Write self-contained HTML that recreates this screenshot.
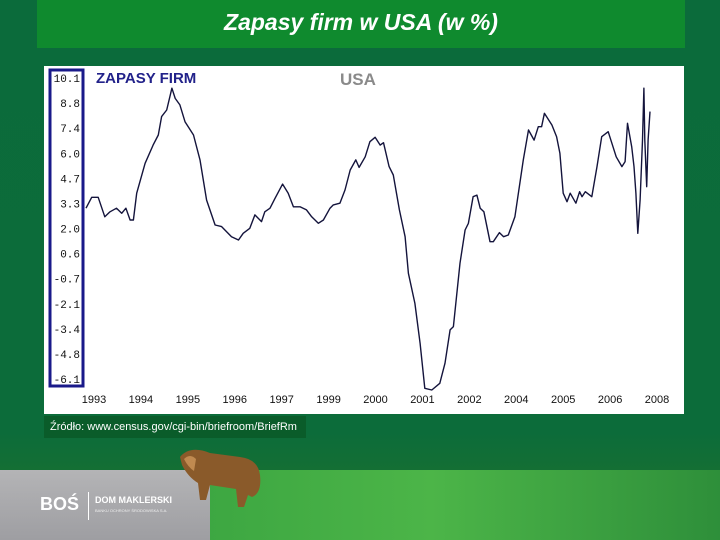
<!DOCTYPE html>
<html><head><meta charset="utf-8"><style>
body{margin:0;width:720px;height:540px;overflow:hidden;font-family:"Liberation Sans",sans-serif;}
#bg{position:absolute;left:0;top:0;width:720px;height:540px;background:linear-gradient(180deg,#0b6b3b 0%,#0c6c3a 80%,#146f34 87%,#2f9a3c 100%);}
</style></head><body>
<div id="bg"></div>
<div style="position:absolute;left:0;top:470px;width:720px;height:70px;background:linear-gradient(90deg,#2f9a3c,#4cb548 60%,#2e8f3a)"></div>
<div style="position:absolute;left:0;top:470px;width:210px;height:70px;background:linear-gradient(180deg,#b4b4b6,#9e9ea2)">
 <div style="position:absolute;left:40px;top:24px;color:#fff;font-weight:bold;font-size:18px;">BOŚ</div>
 <div style="position:absolute;left:88px;top:22px;width:1px;height:28px;background:#fff"></div>
 <div style="position:absolute;left:95px;top:25px;color:#fff;font-weight:bold;font-size:9px;">DOM MAKLERSKI</div>
 <div style="position:absolute;left:95px;top:38px;color:#eee;font-size:4px;">BANKU OCHRONY ŚRODOWISKA S.A.</div>
</div>
<svg style="position:absolute;left:170px;top:445px" width="95" height="65"><path d="M10 12 Q20 0 40 8 L70 12 Q88 14 90 30 Q92 48 82 52 L78 50 L74 62 L68 62 L66 44 L40 40 L36 55 L30 55 L28 38 Q18 32 12 20 Z" fill="#8a5a2a"/><path d="M14 14 Q20 8 26 14 L24 26 Q18 22 14 14Z" fill="#c08a50"/></svg>
<div style="position:absolute;left:37px;top:0;width:648px;height:48px;background:#0f8a2e;color:#fff;font-style:italic;font-weight:bold;font-size:23px;text-align:center;line-height:44px;">Zapasy firm w USA (w %)</div>
<div style="position:absolute;left:44px;top:416px;width:262px;height:22px;background:#0a5c2a;color:#fff;font-size:11px;line-height:23px;padding-left:6px;box-sizing:border-box;">Źródło: www.census.gov/cgi-bin/briefroom/BriefRm</div>
<svg id="chart" style="position:absolute;left:0;top:0" width="720" height="540"></svg>
<script>
const yTicks=["10.1","8.8","7.4","6.0","4.7","3.3","2.0","0.6","-0.7","-2.1","-3.4","-4.8","-6.1"];
const xLabels=["1993","1994","1995","1996","1997","1999","2000","2001","2002","2004","2005","2006","2008"];
const times=[-0.17,-0.05,0.09,0.23,0.34,0.48,0.59,0.68,0.77,0.84,0.91,1.09,1.26,1.37,1.44,1.55,1.66,1.73,1.83,1.94,2.12,2.26,2.40,2.58,2.72,2.93,3.08,3.18,3.32,3.43,3.57,3.64,3.75,3.86,4.02,4.14,4.25,4.39,4.53,4.64,4.78,4.89,5.03,5.10,5.24,5.35,5.46,5.58,5.65,5.78,5.88,5.99,6.10,6.17,6.29,6.38,6.51,6.63,6.70,6.84,6.95,7.05,7.20,7.37,7.48,7.59,7.66,7.80,7.91,7.98,8.08,8.16,8.23,8.31,8.44,8.51,8.64,8.73,8.83,8.97,9.15,9.26,9.38,9.47,9.54,9.60,9.76,9.86,9.93,10.00,10.08,10.15,10.27,10.35,10.40,10.47,10.61,10.72,10.82,10.96,11.13,11.25,11.32,11.37,11.46,11.51,11.55,11.59,11.64,11.69,11.72,11.74,11.78,11.81,11.85];
const values=[3.09,3.68,3.68,2.63,2.9,3.09,2.82,3.09,2.46,2.46,3.9,5.51,6.49,7.03,8.02,8.38,9.55,9.0,8.65,7.75,7.03,5.69,3.53,2.19,2.1,1.56,1.38,1.74,2.01,2.73,2.37,2.9,3.09,3.63,4.39,3.9,3.17,3.17,3.0,2.63,2.28,2.46,3.09,3.27,3.36,4.07,5.15,5.69,5.29,5.86,6.67,6.91,6.49,6.62,5.33,4.88,3.0,1.56,-0.41,-2.03,-4.18,-6.6,-6.69,-6.33,-5.25,-3.46,-3.28,0.13,1.92,2.28,3.71,3.8,3.09,2.9,1.29,1.29,1.78,1.56,1.65,2.63,5.69,7.3,6.76,7.48,7.48,8.2,7.57,6.94,6.05,3.9,3.44,3.9,3.36,3.98,3.71,3.98,3.71,5.33,6.94,7.21,5.86,5.33,5.6,7.66,6.4,5.33,3.9,1.74,3.53,6.76,9.55,6.76,4.25,6.76,8.29];
const NS='http://www.w3.org/2000/svg';
const svg=document.getElementById('chart');
function mk(t,a){const e=document.createElementNS(NS,t);for(const k in a)e.setAttribute(k,a[k]);svg.appendChild(e);return e;}
const tMax=parseFloat(yTicks[0]),tMin=parseFloat(yTicks[yTicks.length-1]);
function yS(v){return 78+(tMax-v)*(301/(tMax-tMin));}
function xS(t){return 94+t*46.92;}
let e=mk('rect',{x:44,y:66,width:640,height:348,fill:'#fff'});


e=mk('rect',{x:50,y:70,width:33,height:316,fill:'none',stroke:'#1a1a8a','stroke-width':3});


yTicks.forEach((l,i)=>{const t=mk('text',{x:80,y:78+i*301/(yTicks.length-1)+4,'text-anchor':'end','font-family':'Liberation Mono, monospace','font-size':11,fill:'#111'});t.textContent=l;

});
xLabels.forEach((l,i)=>{const t=mk('text',{x:xS(i),y:403,'text-anchor':'middle','font-size':11,fill:'#111'});t.textContent=l;

});
e=mk('text',{x:96,y:83,'font-size':15,'font-weight':'bold',fill:'#22228a'});e.textContent='ZAPASY FIRM';


e=mk('text',{x:340,y:85,'font-size':17,'font-weight':'bold',fill:'#8a8a8a'});e.textContent='USA';


const pts=times.map((t,i)=>xS(t).toFixed(1)+','+yS(values[i]).toFixed(1)).join(' ');
e=mk('polyline',{points:pts,fill:'none',stroke:'#14143c','stroke-width':1.4,'stroke-linejoin':'round'});


</script>
</body></html>
